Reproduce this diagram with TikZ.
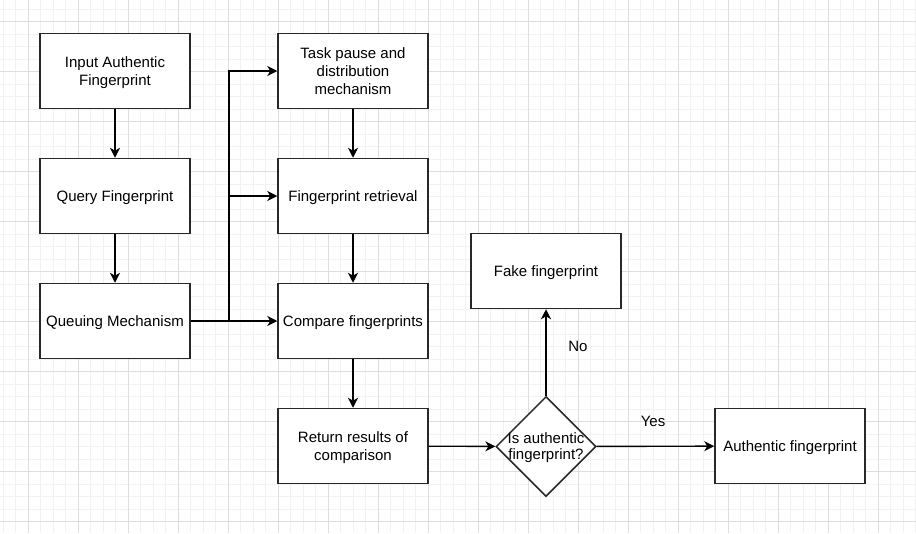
\documentclass[tikz,border=0pt]{standalone}
\usepackage{fontspec}
\setmainfont{Liberation Sans}
\usetikzlibrary{arrows.meta,shapes.geometric}
\definecolor{gridminor}{RGB}{242,242,242}
\definecolor{gridmajor}{RGB}{222,222,222}
\definecolor{boxline}{RGB}{40,40,40}
\tikzset{
  stepbox/.style={draw=boxline, line width=1.5pt, fill=white, minimum width=150pt, minimum height=75pt, align=center, inner sep=2pt, font=\fontsize{15}{18}\selectfont, execute at begin node={\rule{0pt}{14.5pt}}},
  twolbl/.style={align=center, font=\fontsize{15}{18}\selectfont, inner sep=0pt, yshift=-2pt},
  decision/.style={draw=boxline, line width=1.5pt, fill=white, shape=diamond, minimum width=100pt, minimum height=100pt, inner sep=0pt, aspect=1},
  flow/.style={draw=black, line width=1.4pt, -{Stealth[length=10pt,width=10pt,inset=3pt]}},
  lbl/.style={font=\fontsize{15}{18}\selectfont, inner sep=0pt},
}
\begin{document}
\begin{tikzpicture}[x=1pt,y=-1pt]
\useasboundingbox (0,0) rectangle (916,533);
\fill[white] (0,0) rectangle (916,533);
% grid
\foreach \i in {0,...,73} {
  \draw[gridminor, line width=0.9pt] ({3.3+12.5*\i},0) -- ({3.3+12.5*\i},533);
}
\foreach \j in {0,...,42} {
  \draw[gridminor, line width=0.9pt] (0,{9.2+12.5*\j}) -- (916,{9.2+12.5*\j});
}
\foreach \i in {0,...,18} {
  \draw[gridmajor, line width=0.9pt] ({28.3+50*\i},0) -- ({28.3+50*\i},533);
}
\foreach \j in {0,...,10} {
  \draw[gridmajor, line width=0.9pt] (0,{21.7+50*\j}) -- (916,{21.7+50*\j});
}
% nodes
\node[stepbox, label={[twolbl]center:Input Authentic\\Fingerprint}] (input) at (115,71) {};
\node[stepbox] (query) at (115,196) {Query Fingerprint};
\node[stepbox] (queue) at (115,321) {Queuing Mechanism};
\node[stepbox] (task) at (353,71) {Task pause and\\distribution\\mechanism};
\node[stepbox] (retr) at (353,196) {Fingerprint retrieval};
\node[stepbox] (comp) at (353,321) {Compare fingerprints};
\node[stepbox, label={[twolbl]center:Return results of\\comparison}] (ret) at (353,446) {};
\node[stepbox] (fake) at (546,271) {Fake fingerprint};
\node[decision, label={[align=center, font=\fontsize{15}{16.5}\selectfont, inner sep=0pt, yshift=-1pt]center:Is authentic\\fingerprint?}] (dec) at (546,446.5) {};
\node[stepbox] (auth) at (790,446) {Authentic fingerprint};
\coordinate (split) at (229,321);
% connectors
\draw[flow] (input) -- (query);
\draw[flow] (query) -- (queue);
\draw[flow] (task) -- (retr);
\draw[flow] (retr) -- (comp);
\draw[flow] (comp) -- (ret);
\draw[flow] (queue) -- (comp);
\draw[flow] (queue.east) -- (split) |- (task.west);
\draw[flow] (queue.east) -- (split) |- (retr.west);
\draw[flow] (ret) -- (dec);
\draw[flow] (dec) -- (fake);
\draw[flow] (dec) -- (auth);
\node[lbl] (no) at (578,346) {No};
\node[lbl] (yes) at (653,421) {Yes};
\end{tikzpicture}
\end{document}
